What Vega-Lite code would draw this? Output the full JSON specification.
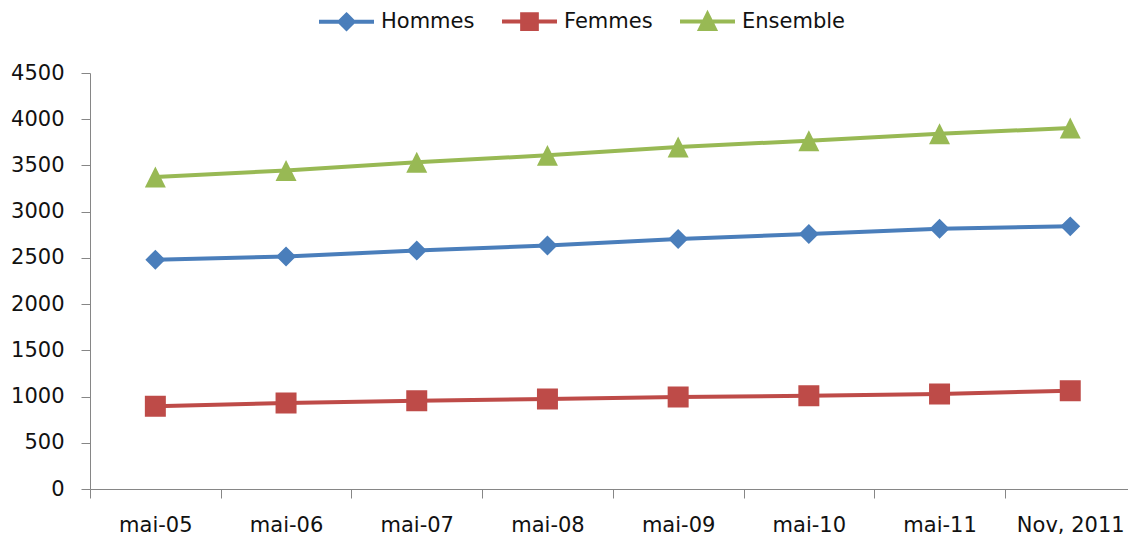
{
  "$schema": "https://vega.github.io/schema/vega-lite/v6.json",
  "width": 1038,
  "height": 416,
  "autosize": {"type": "none"},
  "padding": {"left": 90, "top": 73, "right": 0, "bottom": 49},
  "background": "white",
  "config": {
    "view": {"stroke": null},
    "font": "DejaVu Sans",
    "axis": {
      "domainColor": "#868686",
      "domainWidth": 1,
      "tickColor": "#868686",
      "tickWidth": 1,
      "tickSize": 9,
      "labelFont": "DejaVu Sans",
      "labelFontSize": 21,
      "labelColor": "#111111",
      "grid": false,
      "title": null
    }
  },
  "data": {
    "values": [
      {"periode": "mai-05", "serie": "Hommes", "valeur": 2481},
      {"periode": "mai-06", "serie": "Hommes", "valeur": 2516},
      {"periode": "mai-07", "serie": "Hommes", "valeur": 2579},
      {"periode": "mai-08", "serie": "Hommes", "valeur": 2635},
      {"periode": "mai-09", "serie": "Hommes", "valeur": 2704},
      {"periode": "mai-10", "serie": "Hommes", "valeur": 2759},
      {"periode": "mai-11", "serie": "Hommes", "valeur": 2816},
      {"periode": "Nov, 2011", "serie": "Hommes", "valeur": 2841},
      {"periode": "mai-05", "serie": "Femmes", "valeur": 894},
      {"periode": "mai-06", "serie": "Femmes", "valeur": 930},
      {"periode": "mai-07", "serie": "Femmes", "valeur": 955},
      {"periode": "mai-08", "serie": "Femmes", "valeur": 974},
      {"periode": "mai-09", "serie": "Femmes", "valeur": 995},
      {"periode": "mai-10", "serie": "Femmes", "valeur": 1009},
      {"periode": "mai-11", "serie": "Femmes", "valeur": 1028},
      {"periode": "Nov, 2011", "serie": "Femmes", "valeur": 1063},
      {"periode": "mai-05", "serie": "Ensemble", "valeur": 3375},
      {"periode": "mai-06", "serie": "Ensemble", "valeur": 3446},
      {"periode": "mai-07", "serie": "Ensemble", "valeur": 3534},
      {"periode": "mai-08", "serie": "Ensemble", "valeur": 3609},
      {"periode": "mai-09", "serie": "Ensemble", "valeur": 3699},
      {"periode": "mai-10", "serie": "Ensemble", "valeur": 3768},
      {"periode": "mai-11", "serie": "Ensemble", "valeur": 3844},
      {"periode": "Nov, 2011", "serie": "Ensemble", "valeur": 3904}
    ]
  },
  "encoding": {
    "x": {
      "field": "periode",
      "type": "ordinal",
      "sort": null,
      "bandPosition": 0.5,
      "scale": {"type": "band", "paddingInner": 0, "paddingOuter": 0, "range": [0, 1045.6]},
      "axis": {"labelAngle": 0, "tickBand": "extent", "labelPadding": 16}
    },
    "y": {
      "field": "valeur",
      "type": "quantitative",
      "scale": {"domain": [0, 4500], "nice": false},
      "axis": {"values": [0, 500, 1000, 1500, 2000, 2500, 3000, 3500, 4000, 4500], "format": "d", "labelPadding": 17}
    },
    "color": {
      "field": "serie",
      "type": "nominal",
      "sort": ["Hommes", "Femmes", "Ensemble"],
      "scale": {"domain": ["Hommes", "Femmes", "Ensemble"], "range": ["#4A7EBB", "#BE4B48", "#98B954"]},
      "legend": {
        "title": null,
        "orient": "none",
        "direction": "horizontal",
        "legendX": 227,
        "legendY": -81,
        "padding": 0,
        "symbolSize": 3025,
        "symbolStrokeWidth": 4,
        "symbolOpacity": 1,
        "labelFont": "DejaVu Sans",
        "labelFontSize": 21,
        "labelColor": "#111111",
        "labelOffset": 5,
        "columnPadding": 19
      }
    }
  },
  "layer": [
    {"mark": {"type": "line", "strokeWidth": 4}},
    {
      "mark": {"type": "point", "filled": true, "size": 6178, "opacity": 1},
      "encoding": {
        "shape": {
          "field": "serie",
          "type": "nominal",
          "scale": {
            "domain": ["Hommes", "Femmes", "Ensemble"],
            "range": [
              "M-1,0H1M0,-0.254L0.254,0L0,0.254L-0.254,0Z",
              "M-1,0H1M-0.267,-0.267H0.267V0.267H-0.267Z",
              "M-1,0H1M0,-0.267L0.267,0.267L-0.267,0.267Z"
            ]
          },
          "legend": null
        }
      }
    }
  ]
}
